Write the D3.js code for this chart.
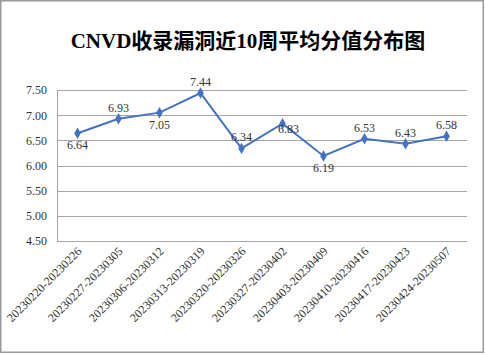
<!DOCTYPE html>
<html><head><meta charset="utf-8">
<script src="https://cdn.jsdelivr.net/npm/d3@7"></script>
<style>body{margin:0;background:#fff;}svg{display:block;}</style>
</head><body>
<svg id="c" width="485" height="355"></svg>
<script>
const categories = ["20230220-20230226","20230227-20230305","20230306-20230312","20230313-20230319","20230320-20230326","20230327-20230402","20230403-20230409","20230410-20230416","20230417-20230423","20230424-20230507"];
const values = [6.64,6.93,7.05,7.44,6.34,6.83,6.19,6.53,6.43,6.58];
const labelPos = ["below","above","below","above","above","right","below","above","above","above"];
const yTicks = [4.5,5.0,5.5,6.0,6.5,7.0,7.5];
const title = "CNVD收录漏洞近10周平均分值分布图";

const svg = d3.select("#c");
svg.append("rect").attr("x",0.75).attr("y",0.75).attr("width",482.5).attr("height",351.5)
  .attr("fill","#fff").attr("stroke","#9a9a9a").attr("stroke-width",1.5);

svg.append("text").attr("x",248).attr("y",48).attr("text-anchor","middle")
  .attr("font-family","'Liberation Serif','Noto Sans CJK SC',serif").attr("font-weight","bold")
  .attr("font-size",21).attr("fill","#000").text(title);

const m = {l:57,r:467,t:90,b:241};
const x = d3.scaleBand().domain(categories).range([m.l,m.r]);
const y = d3.scaleLinear().domain([4.5,7.5]).range([m.b,m.t]);

const g = svg.append("g");
g.selectAll(".grid").data(yTicks).join("line")
  .attr("x1",m.l).attr("x2",m.r).attr("y1",d=>Math.round(y(d))+0.5).attr("y2",d=>Math.round(y(d))+0.5)
  .attr("stroke","#a6a6a6").attr("stroke-width",1);
g.append("line").attr("x1",m.l+0.5).attr("x2",m.l+0.5).attr("y1",m.t).attr("y2",m.b+0.5).attr("stroke","#a6a6a6");

const yAxis = d3.axisLeft(y).tickValues(yTicks).tickFormat(d3.format(".2f")).tickSize(0).tickPadding(10);
const ya = svg.append("g").attr("transform",`translate(${m.l},0)`).call(yAxis);
ya.select(".domain").remove();
ya.selectAll("text").attr("font-family","'Liberation Serif',serif").attr("font-size",12).attr("fill","#333");

const xAxis = d3.axisBottom(x).tickSize(0).tickPadding(0);
const xa = svg.append("g").attr("transform",`translate(0,${m.b})`).call(xAxis);
xa.select(".domain").remove();
xa.selectAll("text").attr("font-family","'Liberation Serif',serif").attr("font-size",12).attr("fill","#333")
  .attr("text-anchor","end").attr("dy",0)
  .attr("transform","translate(5,11) rotate(-45)");

const cx = d=>x(d)+x.bandwidth()/2;
const line = d3.line().x((d,i)=>cx(categories[i])).y(d=>y(d));
svg.append("path").datum(values).attr("d",line).attr("fill","none").attr("stroke","#4472C4").attr("stroke-width",2);
svg.selectAll(".mk").data(values).join("path")
  .attr("d",d3.symbol().type(d3.symbolDiamond).size(38))
  .attr("transform",(d,i)=>`translate(${cx(categories[i])},${y(d)})`)
  .attr("fill","#4472C4");

svg.selectAll(".lb").data(values).join("text")
  .attr("font-family","'Liberation Serif',serif").attr("font-size",12).attr("fill","#333")
  .attr("text-anchor","middle")
  .attr("x",(d,i)=>cx(categories[i]) + (labelPos[i]==="right"?6:0))
  .attr("y",(d,i)=>{const py=y(d); return labelPos[i]==="above"?py-7:labelPos[i]==="below"?py+16:py+9;})
  .text(d=>d3.format(".2f")(d));
</script>
</body></html>
